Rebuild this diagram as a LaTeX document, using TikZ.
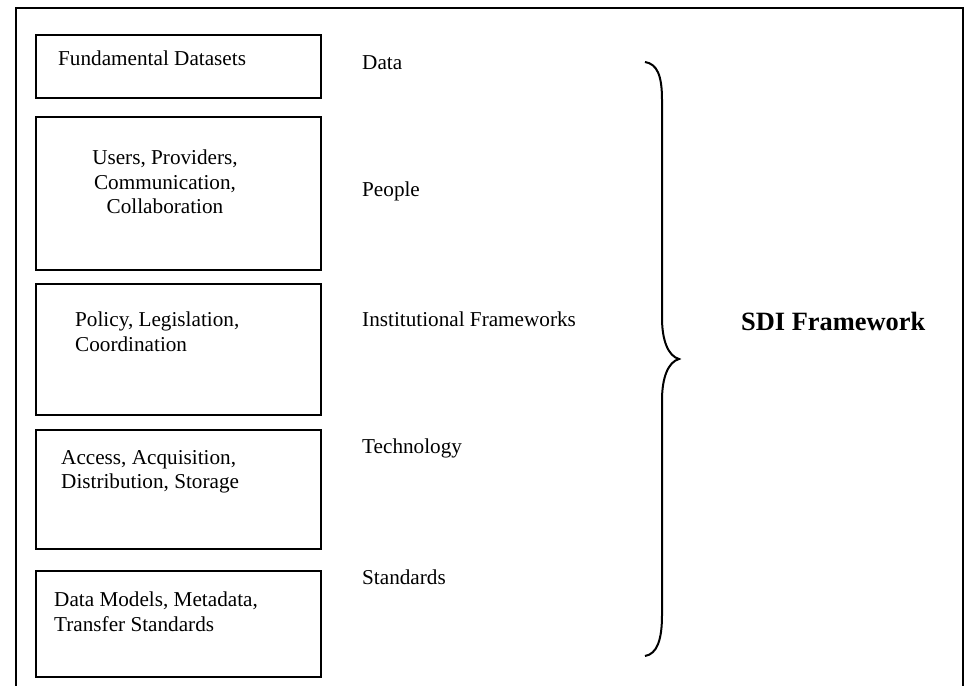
\documentclass[tikz,border=0pt]{standalone}
\usepackage{fontspec}
\setmainfont{Liberation Serif}
\begin{document}
\begin{tikzpicture}[x=1pt,y=-1pt,
  frame/.style={line width=2pt},
  box/.style={draw,line width=2pt,inner sep=0pt,anchor=north west},
  txt/.style={inner sep=0pt,font=\fontsize{21.2}{24.5}\selectfont},
  lbl/.style={inner sep=0pt,anchor=base west,font=\fontsize{21.2}{24.5}\selectfont},
  bracestyle/.style={line width=2pt}]
\useasboundingbox (0,0) rectangle (965,685);
% outer frame
\coordinate (fbl) at (16,690);
\coordinate (ftl) at (16,8);
\coordinate (ftr) at (963,8);
\coordinate (fbr) at (963,690);
\draw[frame] (fbl) -- (ftl) -- (ftr) -- (fbr);
% boxes
\node[box,minimum width=285,minimum height=63] (b1) at (35,34) {};
\node[box,minimum width=285,minimum height=153] (b2) at (35,116) {};
\node[box,minimum width=285,minimum height=131] (b3) at (35,283) {};
\node[box,minimum width=285,minimum height=119] (b4) at (35,429) {};
\node[box,minimum width=285,minimum height=106] (b5) at (35,570) {};
% box texts
\node[txt,anchor=base west] (t1) at (58,65) {Fundamental Datasets};
\node[txt,anchor=north,align=center] (t2) at (165,150) {Users, Providers,\\Communication,\\Collaboration};
\node[txt,anchor=north west,align=left] (t3) at (75,312) {Policy, Legislation,\\Coordination};
\node[txt,anchor=north west,align=left] (t4) at (61,450) {Access, Acquisition,\\Distribution, Storage};
\node[txt,anchor=north west,align=left] (t5) at (54,592) {Data Models, Metadata,\\Transfer Standards};
% right labels
\node[lbl] (l1) at (362,70) {Data};
\node[lbl] (l2) at (362,196) {People};
\node[lbl] (l3) at (362,326) {Institutional Frameworks};
\node[lbl] (l4) at (362,453) {Technology};
\node[lbl] (l5) at (362,584) {Standards};
% brace
\coordinate (bt) at (645,62);
\coordinate (bm) at (679,359);
\coordinate (bb) at (645,656);
\draw[bracestyle] (bt) .. controls (657,64) and (662,75) .. (662,100) -- (662,318)
  .. controls (662,340) and (668,356) .. (bm)
  .. controls (668,362) and (662,378) .. (662,400) -- (662,615)
  .. controls (662,640) and (657,654) .. (bb);
% title
\node[inner sep=0pt,anchor=base west,font=\fontsize{26.4}{30}\selectfont\bfseries] (sdi) at (741,330) {SDI Framework};
\end{tikzpicture}
\end{document}
